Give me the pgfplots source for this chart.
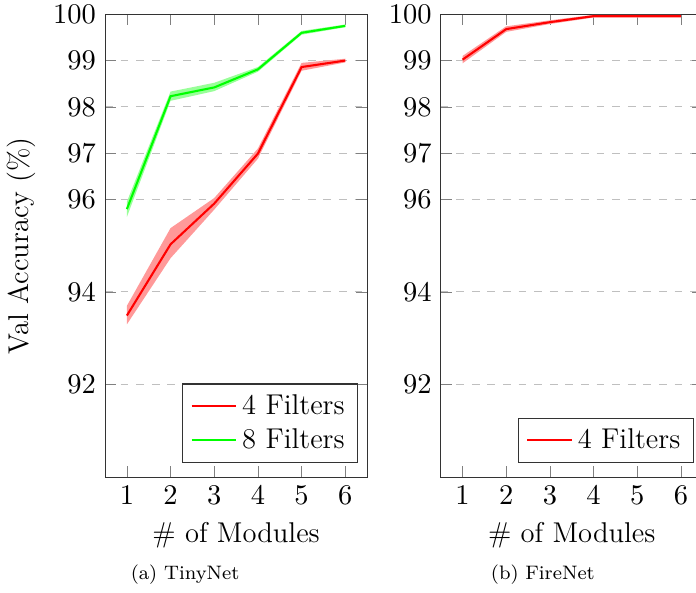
\documentclass[border=0pt]{standalone}
\usepackage{pgfplots}
\pgfplotsset{compat=1.18}

\pgfplotsset{
  accplot/.style={
    scale only axis,
    width=100.8pt, height=178pt,
    xmin=0.5, xmax=6.5, ymin=90, ymax=100,
    xtick={1,2,3,4,5,6},
    ytick={92,94,96,97,98,99,100},
    ymajorgrids=true,
    grid style={dashed, gray!50},
    tick style={gray},
    axis line style={black!80},
    tick label style={font=\fontsize{11}{13}\selectfont},
    label style={font=\fontsize{11}{13}\selectfont},
    legend style={font=\fontsize{11}{13}\selectfont, draw=black!80,
      at={(0.966,0.03)}, anchor=south east, legend cell align=left},
    xlabel={\# of Modules},
  },
}

\begin{document}
\begin{tikzpicture}
\begin{axis}[accplot, at={(40.4pt,44.2pt)}, anchor=south west,
  ylabel={Val Accuracy (\%)}]
\addplot[fill=red!40, draw=none, forget plot] coordinates {
 (1,93.70) (2,95.38) (3,96.03) (4,97.10) (5,98.95) (6,99.04)
 (6,98.96) (5,98.78) (4,96.88) (3,95.78) (2,94.73) (1,93.30)} -- cycle;
\addplot[fill=green!40, draw=none, forget plot] coordinates {
 (1,95.95) (2,98.33) (3,98.52) (4,98.86) (5,99.64) (6,99.78)
 (6,99.72) (5,99.56) (4,98.76) (3,98.34) (2,98.13) (1,95.62)} -- cycle;
\addplot[red, line width=0.8pt] coordinates {
 (1,93.49) (2,95.03) (3,95.91) (4,96.99) (5,98.86) (6,99.00)};
\addplot[green, line width=0.8pt] coordinates {
 (1,95.79) (2,98.23) (3,98.42) (4,98.81) (5,99.60) (6,99.75)};
\legend{4 Filters, 8 Filters}
\end{axis}

\begin{axis}[accplot, at={(169.5pt,44.2pt)}, anchor=south west]
\addplot[fill=red!40, draw=none, forget plot] coordinates {
 (1,99.10) (2,99.74) (3,99.87) (4,99.99) (5,99.99) (6,99.99)
 (6,99.93) (5,99.93) (4,99.93) (3,99.79) (2,99.62) (1,98.94)} -- cycle;
\addplot[red, line width=0.8pt] coordinates {
 (1,99.02) (2,99.68) (3,99.83) (4,99.96) (5,99.96) (6,99.96)};
\legend{4 Filters}
\end{axis}

\node[font=\fontsize{7.5}{9}\selectfont] at (71.2pt,6.5pt) {(a) TinyNet};
\node[font=\fontsize{7.5}{9}\selectfont] at (208.8pt,6.5pt) {(b) FireNet};

\pgfresetboundingbox
\useasboundingbox (0pt,0pt) rectangle (267.7pt,227.7pt);
\end{tikzpicture}
\end{document}
